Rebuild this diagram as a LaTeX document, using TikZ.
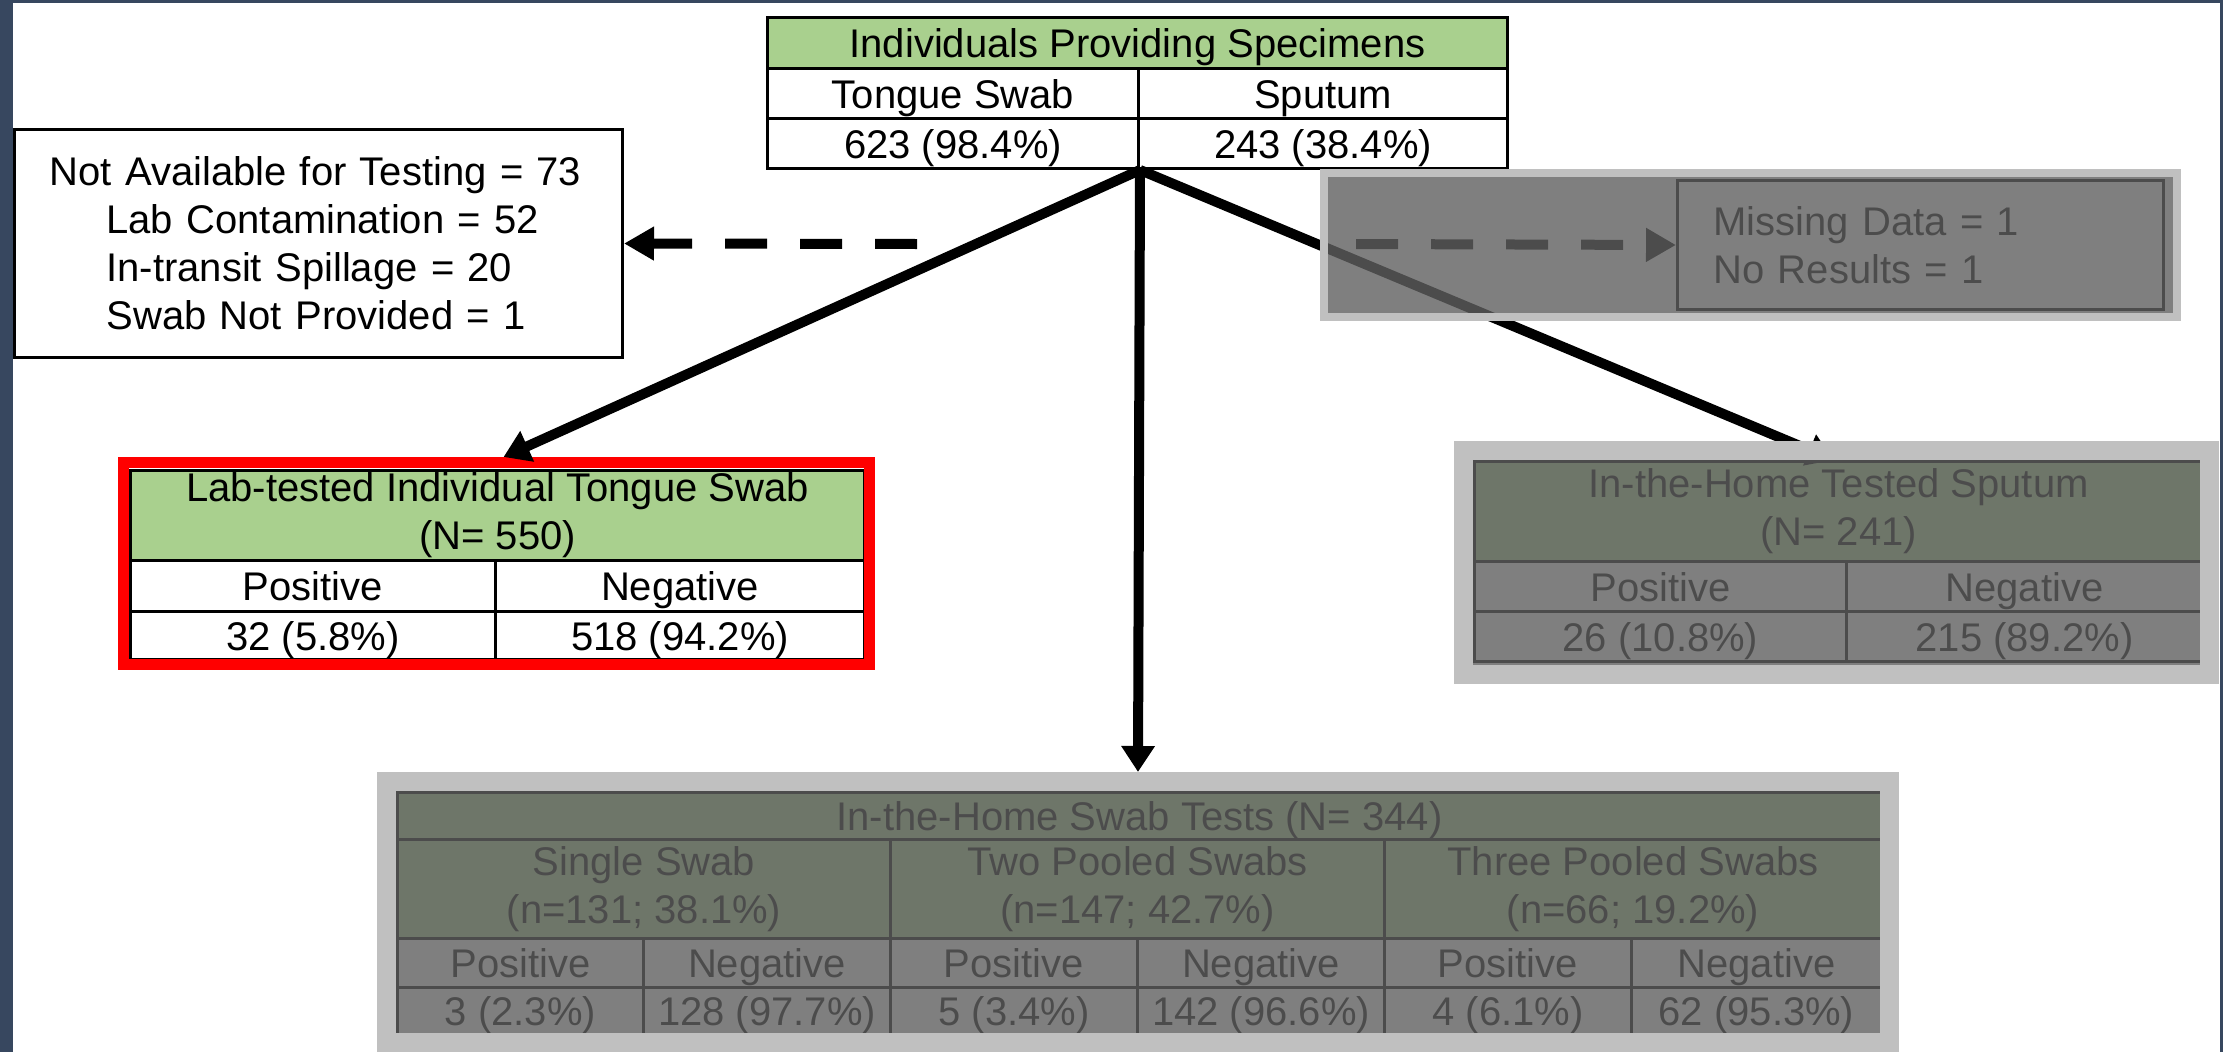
\documentclass[tikz,border=0pt]{standalone}
\usepackage{fontspec}
\setmainfont{Liberation Sans}
\usepackage{tikz}
\usetikzlibrary{arrows.meta}
\definecolor{slideframe}{RGB}{55, 71, 95}
\definecolor{hdrgreen}{RGB}{169, 208, 142}
\definecolor{veilgray}{RGB}{96, 96, 96}
\definecolor{veilframe}{RGB}{192, 192, 192}
\definecolor{alertred}{RGB}{255, 0, 0}

\begin{document}
\begin{tikzpicture}[
    x=1pt, y=-1pt,
    every node/.style={font=\fontsize{40}{48}\selectfont},
    cell/.style={rectangle, draw=black, fill=white, line width=3pt, inner sep=0pt, align=center, anchor=north west},
    oneline/.style={cell, text height=29pt, text depth=0pt},
    hdr/.style={cell, fill=hdrgreen},
    hdrline/.style={oneline, fill=hdrgreen},
    note/.style={rectangle, draw=black, fill=white, line width=3pt, inner ysep=0pt, align=left, anchor=north west},
    redframe/.style={rectangle, draw=alertred, line width=11pt, inner sep=0pt},
    veil/.style={rectangle, draw=veilframe, fill=veilgray, fill opacity=0.8, inner sep=0pt},
    flow/.style={line width=10pt, -{Triangle[length=26pt, width=32pt]}},
    lost/.style={line width=10pt, dash pattern=on 42pt off 33pt, -{Triangle[length=30pt, width=32pt]}}
]
    \useasboundingbox (0,0) rectangle (2223,1052);
    \fill[slideframe] (0,0) rectangle (2223,1052);
    \fill[white] (13,3) rectangle (2220,1052);

    % Individuals providing specimens
    \node[hdrline, minimum width=740pt, minimum height=51pt] (topHdr) at (766,16) {Individuals Providing Specimens};
    \node[oneline, minimum width=371pt, minimum height=50pt] (topSwab) at (766,67) {Tongue Swab};
    \node[oneline, minimum width=369pt, minimum height=50pt] (topSput) at (1137,67) {Sputum};
    \node[oneline, minimum width=371pt, minimum height=50pt] (topSwabN) at (766,117) {623 (98.4\%)};
    \node[oneline, minimum width=369pt, minimum height=50pt] (topSputN) at (1137,117) {243 (38.4\%)};

    % Specimens lost
    \node[note, minimum width=608pt, minimum height=228pt, text width=538pt, inner xsep=35pt] (lostNote) at (13,128)
        {Not Available for Testing = 73\\
         \hspace*{57pt}Lab Contamination = 52\\
         \hspace*{57pt}In-transit Spillage = 20\\
         \hspace*{57pt}Swab Not Provided = 1};
    \node[note, minimum width=486pt, minimum height=129pt, text width=414pt, inner xsep=36pt] (missNote) at (1676,179)
        {Missing Data = 1\\No Results = 1};

    % Lab-tested tongue swab
    \node[hdr, minimum width=734pt, minimum height=90pt] (labHdr) at (129,469) {Lab-tested Individual Tongue Swab\\(N= 550)};
    \node[oneline, minimum width=365pt, minimum height=51pt] (labPos) at (129,559) {Positive};
    \node[oneline, minimum width=369pt, minimum height=51pt] (labNeg) at (494,559) {Negative};
    \node[oneline, minimum width=365pt, minimum height=48pt] (labPosN) at (129,610) {32 (5.8\%)};
    \node[oneline, minimum width=369pt, minimum height=48pt] (labNegN) at (494,610) {518 (94.2\%)};
    \node[redframe, minimum width=746pt, minimum height=202pt] (labFrame) at (496.5,563.5) {};

    % In-the-home sputum
    \node[hdr, minimum width=728pt, minimum height=100pt] (sputHdr) at (1473,460) {In-the-Home Tested Sputum\\(N= 241)};
    \node[oneline, minimum width=372pt, minimum height=50pt] (sputPos) at (1473,560) {Positive};
    \node[oneline, minimum width=356pt, minimum height=50pt] (sputNeg) at (1845,560) {Negative};
    \node[oneline, minimum width=372pt, minimum height=50pt] (sputPosN) at (1473,610) {26 (10.8\%)};
    \node[oneline, minimum width=356pt, minimum height=50pt] (sputNegN) at (1845,610) {215 (89.2\%)};

    % In-the-home swab tests
    \node[hdrline, minimum width=1484pt, minimum height=47pt] (homeHdr) at (396,791) {In-the-Home Swab Tests (N= 344)};
    \node[hdr, minimum width=493pt, minimum height=99pt] (homeOne) at (396,838) {Single Swab\\(n=131; 38.1\%)};
    \node[hdr, minimum width=494pt, minimum height=99pt] (homeTwo) at (889,838) {Two Pooled Swabs\\(n=147; 42.7\%)};
    \node[hdr, minimum width=497pt, minimum height=99pt] (homeThree) at (1383,838) {Three Pooled Swabs\\(n=66; 19.2\%)};
    \node[oneline, minimum width=246pt, minimum height=49pt] (homeOnePos) at (396,937) {Positive};
    \node[oneline, minimum width=247pt, minimum height=49pt] (homeOneNeg) at (642,937) {Negative};
    \node[oneline, minimum width=247pt, minimum height=49pt] (homeTwoPos) at (889,937) {Positive};
    \node[oneline, minimum width=247pt, minimum height=49pt] (homeTwoNeg) at (1136,937) {Negative};
    \node[oneline, minimum width=247pt, minimum height=49pt] (homeThreePos) at (1383,937) {Positive};
    \node[oneline, minimum width=250pt, minimum height=49pt] (homeThreeNeg) at (1630,937) {Negative};
    \node[oneline, minimum width=246pt, minimum height=47pt] (homeOnePosN) at (396,986) {3 (2.3\%)};
    \node[oneline, minimum width=247pt, minimum height=47pt] (homeOneNegN) at (642,986) {128 (97.7\%)};
    \node[oneline, minimum width=247pt, minimum height=47pt] (homeTwoPosN) at (889,986) {5 (3.4\%)};
    \node[oneline, minimum width=247pt, minimum height=47pt] (homeTwoNegN) at (1136,986) {142 (96.6\%)};
    \node[oneline, minimum width=247pt, minimum height=47pt] (homeThreePosN) at (1383,986) {4 (6.1\%)};
    \node[oneline, minimum width=250pt, minimum height=47pt] (homeThreeNegN) at (1630,986) {62 (95.3\%)};

    % Connectors
    \draw[flow] (topSwabN.south east) -- ([xshift=7pt]labFrame.north);
    \draw[flow] (topSwabN.south east) -- ([xshift=-5pt]sputHdr.north);
    \coordinate (lostL) at (917,244);
    \coordinate (lostR) at (1356,244);
    \draw[lost] (lostL) -- (lostNote.east);
    \draw[lost] (lostR) -- (missNote.west);

    % Greyed-out parts
    \node[veil, line width=8pt, minimum width=853pt, minimum height=144pt] (missVeil) at (1750.5,245) {};
    \node[veil, line width=19pt, minimum width=746pt, minimum height=224pt] (sputVeil) at (1836.5,562.5) {};
    \node[veil, line width=19pt, minimum width=1503pt, minimum height=261pt] (homeVeil) at (1138,912) {};

    \draw[flow] (topSwabN.south east) -- (homeVeil.north);
\end{tikzpicture}
\end{document}
